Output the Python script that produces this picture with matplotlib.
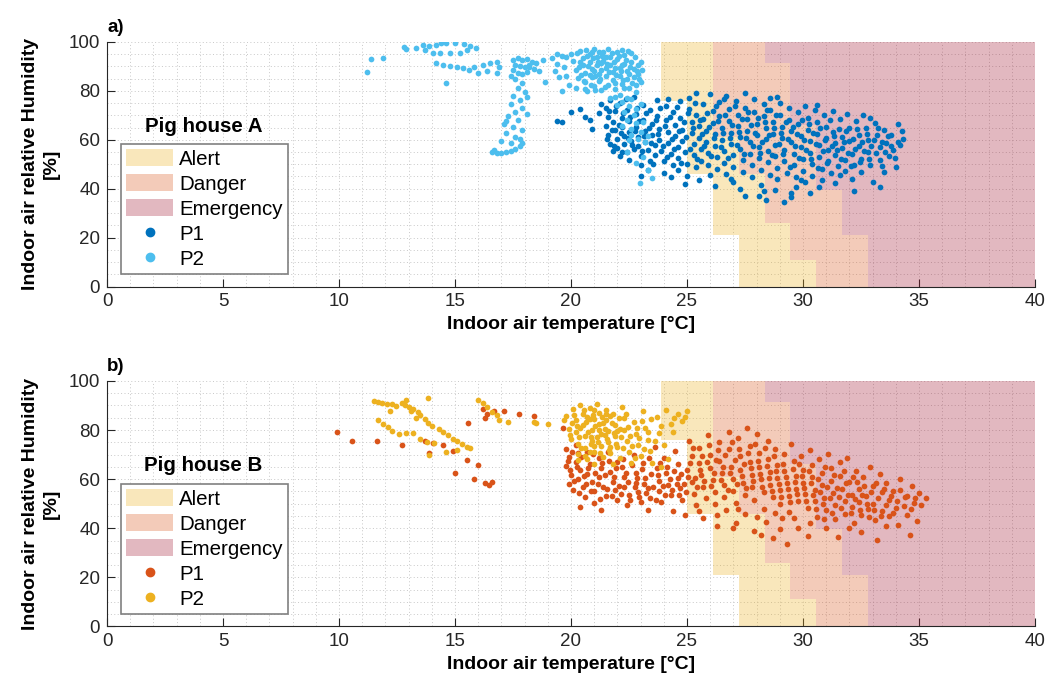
import numpy as np
import matplotlib
matplotlib.use('Agg')
from matplotlib import pyplot as plt
from matplotlib.patches import Patch
from matplotlib.lines import Line2D
from matplotlib.ticker import MultipleLocator

plt.rc('font', family='Liberation Sans', size=13.5)

# zone staircases: left temperature edge of each zone, per humidity band
band_rh = [0, 11, 21, 26, 39.5, 46, 61, 66, 76, 91.3, 100]
alert_t = [27.24, 27.24, 26.14, 26.14, 26.14, 25.0, 25.0, 25.0, 23.9, 23.9]
danger_t = [30.56, 29.44, 29.44, 28.36, 28.36, 27.24, 26.14, 26.14, 26.14, 26.14]
emerg_t = [32.8, 32.8, 31.67, 31.67, 30.56, 30.56, 30.56, 29.44, 29.44, 28.36]

# pig house A, P1 (temperature, humidity)
a_p1 = [
    (19.4, 67.8), (19.6, 67.4), (20.0, 71.3), (20.4, 72.6), (20.6, 69.2), (20.8, 68.0),
    (20.9, 64.4), (21.3, 74.5), (21.2, 70.8),
    (21.5, 73.2), (21.6, 69.5), (21.5, 65.8), (21.6, 62.1), (21.7, 58.4), (21.8, 55.6),
    (21.7, 76.4), (21.9, 71.7), (21.8, 67.3), (21.9, 63.9), (22.0, 60.2), (22.0, 56.8),
    (22.1, 53.5), (22.1, 74.9), (22.2, 69.0), (22.2, 65.4), (22.3, 61.7), (22.3, 58.1),
    (22.4, 54.9), (22.5, 51.8), (22.4, 72.3), (22.5, 67.6), (22.5, 63.2), (22.6, 59.6),
    (22.7, 56.3), (22.7, 77.5), (22.8, 70.4), (22.8, 65.1), (22.9, 61.0), (22.9, 57.4),
    (23.0, 53.2), (23.0, 49.6), (23.1, 74.3), (23.1, 68.2), (23.2, 63.6), (23.2, 59.3),
    (23.3, 55.7), (23.4, 51.4), (23.3, 47.5), (23.4, 72.0), (23.5, 66.3), (23.5, 61.9),
    (23.6, 57.9), (23.6, 53.8), (23.7, 76.2), (23.7, 69.6), (23.8, 64.5), (23.8, 60.1),
    (23.9, 55.5), (24.0, 51.2), (24.0, 46.3), (24.1, 73.8), (24.1, 67.9), (24.2, 63.0),
    (24.2, 58.6), (24.3, 54.1), (24.4, 49.8), (24.3, 44.6), (24.4, 71.2), (24.5, 66.0),
    (24.5, 61.4), (24.6, 56.9), (24.6, 52.7), (24.7, 75.8), (24.7, 69.0), (24.8, 64.2),
    (24.8, 59.7), (24.9, 55.0), (25.0, 50.3), (25.0, 45.4), (24.9, 41.8), (25.1, 77.2),
    (25.1, 72.6), (25.2, 67.4), (25.2, 62.8), (25.3, 58.2), (25.3, 53.6), (25.4, 48.9),
    (25.4, 70.1), (25.5, 65.5), (25.5, 60.6), (25.6, 56.1), (25.6, 51.5), (25.5, 43.7),
    (25.7, 74.7), (25.7, 68.7), (25.8, 63.8), (25.8, 59.2), (25.9, 54.7), (25.9, 49.9),
    (26.0, 45.6), (26.0, 78.6), (26.1, 71.9), (26.1, 66.8), (26.2, 62.3), (26.2, 57.6),
    (26.3, 52.9), (26.3, 48.2), (26.2, 41.2), (26.4, 75.4), (26.4, 69.6), (26.5, 64.9),
    (26.5, 60.0), (26.6, 55.4), (26.6, 50.7), (26.7, 46.1), (26.7, 78.0), (26.8, 72.8),
    (26.8, 67.5), (26.9, 62.7), (26.9, 58.3), (27.0, 53.6), (27.0, 48.8), (27.0, 42.9),
    (27.1, 75.9), (27.2, 70.3), (27.2, 65.6), (27.3, 61.1), (27.3, 56.4), (27.4, 51.7),
    (27.4, 47.0), (27.3, 39.8), (27.5, 79.1), (27.5, 73.2), (27.6, 68.4), (27.6, 63.5),
    (27.7, 59.0), (27.7, 54.3), (27.8, 49.6), (27.8, 44.9), (27.9, 76.8), (27.9, 71.4),
    (28.0, 66.6), (28.0, 61.9), (28.1, 57.2), (28.1, 52.4), (28.2, 47.8), (28.2, 41.5),
    (28.1, 37.2), (28.3, 74.6), (28.3, 69.7), (28.4, 64.7), (28.4, 60.3), (28.5, 55.6),
    (28.5, 50.9), (28.4, 35.2), (28.6, 77.3), (28.6, 72.0), (28.7, 67.2), (28.7, 62.5),
    (28.8, 58.0), (28.8, 53.3), (28.9, 48.5), (28.9, 43.8), (28.8, 39.6), (29.0, 75.1),
    (29.0, 70.1), (29.1, 65.3), (29.1, 60.7), (29.2, 56.0), (29.2, 51.2), (29.3, 46.6),
    (29.2, 34.6), (29.4, 73.0), (29.4, 68.3), (29.5, 63.6), (29.5, 58.9), (29.5, 36.8),
    (29.6, 54.2), (29.6, 49.5), (29.7, 44.8), (29.7, 40.5), (29.8, 71.4), (29.8, 66.4),
    (29.9, 61.6), (29.9, 57.0), (30.0, 52.2), (30.0, 47.4), (30.1, 42.6), (30.1, 74.0),
    (30.2, 69.0), (30.2, 64.1), (30.3, 59.5), (30.3, 54.8), (30.4, 50.0), (30.4, 45.3),
    (30.3, 38.4), (30.5, 72.2), (30.6, 67.1), (30.6, 62.4), (30.7, 57.7), (30.7, 52.8),
    (30.8, 48.2), (30.8, 43.5), (30.9, 70.3), (31.0, 65.4), (31.0, 60.8), (31.1, 56.0),
    (31.1, 51.3), (31.2, 46.6), (31.3, 71.6), (31.3, 63.3), (31.4, 58.7), (31.4, 53.9),
    (31.5, 49.1), (31.4, 42.3), (31.6, 68.4), (31.7, 61.2), (31.7, 56.6), (31.8, 51.8),
    (31.8, 47.2), (31.9, 70.7), (32.0, 65.0), (32.0, 59.4), (32.1, 54.4), (32.2, 49.6),
    (32.1, 44.1), (32.3, 67.6), (32.4, 62.0), (32.4, 57.3), (32.5, 52.1), (32.5, 46.8),
    (32.6, 70.1), (32.7, 64.8), (32.8, 59.8), (32.8, 55.2), (32.9, 49.9), (33.0, 42.6),
    (33.1, 67.0), (33.2, 61.8), (33.3, 56.9), (33.3, 51.6), (33.5, 46.8), (33.5, 64.1),
    (33.6, 58.8), (33.7, 53.4), (33.8, 62.0), (33.9, 56.0), (34.0, 49.0), (34.1, 66.3),
    (34.2, 57.8), (34.3, 60.2), (33.3, 40.5), (32.2, 38.9),
    (21.55, 60.4), (21.65, 71.8), (21.75, 64.0), (21.85, 57.3), (21.95, 74.0), (22.05, 66.1),
    (22.15, 62.9), (22.2, 55.2), (22.25, 71.0), (22.35, 76.6), (22.45, 60.8), (22.55, 69.2),
    (22.65, 57.8), (22.75, 63.6), (22.85, 73.1), (22.95, 67.6), (23.05, 55.6), (23.15, 61.4),
    (23.25, 70.8), (23.35, 64.9), (23.45, 58.7), (23.55, 50.2), (23.65, 68.0), (23.75, 62.3),
    (23.85, 73.0), (23.95, 57.6), (24.05, 65.7), (24.15, 53.1), (24.25, 69.5), (24.35, 60.2),
    (24.45, 56.1), (24.55, 73.3), (24.65, 63.5), (24.75, 50.5), (24.85, 67.2), (24.95, 61.2),
    (25.05, 70.8), (25.15, 56.3), (25.25, 64.9), (25.35, 75.1), (25.45, 52.0), (25.55, 68.3),
    (25.65, 62.2), (25.75, 57.5), (25.85, 71.0), (25.95, 65.3), (26.05, 53.3), (26.15, 60.7),
    (26.25, 73.9), (26.35, 67.8), (26.45, 56.9), (26.55, 62.7), (26.65, 70.2), (26.75, 52.4),
    (26.85, 60.6), (26.95, 65.9), (27.05, 73.7), (27.15, 57.9), (27.25, 63.2), (27.35, 68.4),
    (27.45, 54.3), (27.55, 60.9), (27.65, 71.3), (27.75, 65.9), (27.85, 57.4), (27.95, 62.7),
    (28.05, 69.0), (28.15, 54.6), (28.25, 59.0), (28.35, 67.1), (28.45, 72.2), (28.55, 62.0),
    (28.65, 53.8), (28.75, 65.0), (28.85, 70.2), (28.95, 58.4), (29.05, 62.9), (29.15, 54.1),
    (29.25, 67.2), (29.35, 60.5), (29.45, 49.0), (29.55, 65.2), (29.65, 57.4), (29.75, 62.3),
    (29.85, 52.7), (29.95, 68.2), (30.05, 60.0), (30.15, 55.8), (30.25, 66.3), (30.35, 52.1),
    (30.45, 62.8), (30.55, 58.2), (30.65, 48.6), (30.75, 64.9), (30.85, 55.3), (30.95, 60.1),
    (31.05, 50.4), (31.15, 67.9), (31.25, 57.5), (31.35, 61.7), (31.45, 55.9), (31.55, 64.6),
    (31.65, 52.0), (31.75, 58.9), (31.85, 63.4), (31.95, 54.6), (32.05, 49.4), (32.15, 60.4),
    (32.25, 56.1), (32.35, 64.6), (32.45, 51.1), (32.55, 59.1), (32.65, 55.6), (32.75, 62.4),
    (32.85, 52.1), (32.95, 57.5), (33.05, 60.0), (33.15, 54.6), (33.25, 64.9), (33.4, 59.2),
    (33.55, 55.2), (33.65, 61.4), (33.8, 57.6), (33.95, 52.5), (34.1, 59.3), (34.25, 63.4),
    (23.0, 45.1), (24.6, 47.8), (26.9, 44.1), (28.6, 45.5), (29.9, 43.6), (31.6, 45.6),
    (33.4, 49.4), (27.5, 36.9), (28.3, 39.1), (29.5, 38.2), (30.7, 40.9), (24.2, 76.7),
    (26.6, 76.5), (28.9, 77.6), (30.6, 74.4), (32.9, 69.0), (25.4, 79.3),
]

# pig house A, P2
a_p2 = [
    (11.2, 87.6), (11.4, 93.0), (11.9, 93.6), (12.8, 98.1), (12.9, 97.2), (13.3, 97.4),
    (13.6, 98.8), (13.9, 98.4), (14.2, 98.8), (14.4, 99.4), (14.6, 99.7), (15.0, 99.5),
    (15.4, 99.2), (15.65, 98.4), (15.9, 97.4), (15.5, 96.7), (15.2, 95.6), (14.8, 95.4),
    (14.35, 95.4), (14.07, 95.6), (13.7, 96.7), (14.2, 91.3), (14.5, 90.6), (14.8, 90.2),
    (15.07, 89.9), (15.36, 89.2), (15.8, 89.6), (16.2, 90.6), (16.5, 91.3), (16.8, 92.0),
    (16.9, 89.9), (16.8, 87.2), (16.0, 87.2), (14.6, 83.4), (15.6, 88.4), (16.4, 88.1),
    (17.5, 92.8), (17.7, 93.3), (17.9, 92.5), (18.1, 93.0), (18.3, 92.0), (18.5, 91.4),
    (17.6, 90.7), (17.8, 90.2), (18.0, 89.6), (18.2, 90.5), (18.4, 89.0), (18.6, 88.3),
    (17.5, 88.4), (17.7, 87.5), (17.9, 86.8), (18.1, 87.9), (17.4, 86.0),
    (17.6, 84.7), (17.9, 83.2), (17.7, 81.0), (18.0, 79.4), (17.5, 78.0), (17.8, 76.3),
    (17.4, 74.5), (17.9, 73.1), (17.6, 71.2), (17.3, 69.8), (17.7, 68.0), (17.1, 66.4),
    (17.5, 65.1), (17.9, 63.9), (17.2, 62.6), (17.6, 61.0), (17.0, 59.7), (17.4, 58.6),
    (17.8, 60.2), (17.2, 67.5), (18.1, 70.4), (18.1, 77.6),
    (16.6, 55.1), (16.8, 54.6), (17.0, 54.7), (17.2, 55.0), (17.4, 55.6), (17.6, 56.4),
    (17.8, 57.3), (17.9, 58.6), (16.7, 56.0),
    (18.8, 92.6), (18.2, 89.9), (18.9, 83.8), (19.2, 93.5), (19.4, 91.0), (19.3, 88.2),
    (19.6, 94.4), (19.7, 89.6), (19.8, 86.0), (19.9, 82.3), (19.6, 79.8), (20.0, 95.1),
    (20.1, 92.3), (20.2, 88.7), (20.3, 85.1), (20.2, 81.0), (20.4, 96.2), (20.5, 93.6),
    (20.5, 90.4), (20.6, 87.3), (20.6, 83.7), (20.7, 79.9), (20.8, 95.0), (20.8, 91.8),
    (20.9, 88.9), (20.9, 85.6), (21.0, 82.2), (21.0, 97.1), (21.1, 93.9), (21.1, 90.5),
    (21.2, 87.1), (21.2, 83.9), (21.3, 80.3), (21.4, 95.8), (21.4, 92.4), (21.5, 89.2),
    (21.5, 85.9), (21.6, 82.5), (21.6, 97.3), (21.7, 94.0), (21.7, 90.7), (21.8, 87.6),
    (21.8, 84.4), (21.9, 80.8), (22.0, 96.1), (22.0, 92.9), (22.1, 89.5), (22.1, 86.2),
    (22.2, 83.0), (22.3, 94.8), (22.3, 91.2), (22.4, 88.0), (22.4, 84.7), (22.5, 81.3),
    (22.6, 95.3), (22.6, 92.0), (22.7, 89.1), (22.7, 85.8), (22.8, 82.6), (22.9, 90.4),
    (22.9, 87.0), (23.0, 83.8), (22.8, 79.4), (20.4, 92.0), (20.8, 86.3), (21.3, 91.4),
    (21.0, 88.0), (21.9, 89.3), (22.2, 90.6), (21.5, 93.7), (20.7, 94.3), (21.2, 96.0),
    (22.5, 87.1),
    (20.25, 95.4), (20.35, 89.9), (20.45, 86.7), (20.55, 84.0), (20.65, 96.8), (20.75, 90.1),
    (20.85, 82.6), (20.95, 93.4), (21.05, 86.1), (21.15, 91.9), (21.25, 85.0), (21.35, 94.4),
    (21.45, 81.7), (21.55, 91.1), (21.65, 87.9), (21.75, 95.4), (21.85, 91.9), (21.95, 86.5),
    (22.05, 94.4), (22.15, 88.1), (22.25, 84.6), (22.35, 92.6), (22.45, 96.2), (22.55, 89.9),
    (22.65, 83.4), (22.75, 93.7), (22.85, 88.0), (22.95, 84.9), (23.0, 92.0), (23.05, 88.6),
    (21.05, 80.4), (20.6, 80.8), (21.3, 88.6), (21.9, 83.2), (22.3, 81.3), (20.9, 96.1),
    (19.8, 93.7), (19.5, 85.6), (19.4, 95.0), (22.2, 96.8),
    (21.9, 77.6), (22.2, 75.3), (22.5, 73.8), (22.3, 71.5), (22.7, 70.0), (22.4, 68.2),
    (22.8, 66.7), (22.6, 64.5), (23.0, 63.1), (22.9, 60.4), (23.2, 58.9), (21.7, 77.0),
    (22.1, 78.4), (22.6, 76.5), (23.0, 74.6), (22.0, 74.2), (22.4, 77.0), (22.2, 65.8),
    (22.6, 62.0), (22.8, 72.7), (23.1, 67.2), (23.3, 61.5), (22.5, 60.1),
    (22.97, 42.2), (23.5, 44.4), (23.3, 47.8), (22.8, 50.6), (23.1, 52.9), (22.4, 55.0),
]

# pig house B, P1
b_p1 = [
    (9.93, 79.1), (10.57, 75.6), (11.65, 75.7), (12.7, 73.9), (13.7, 75.6), (14.06, 74.8),
    (13.9, 70.7), (14.5, 73.9), (14.9, 71.5), (15.0, 62.7), (15.5, 67.7), (15.57, 83.0),
    (15.8, 60.0), (16.0, 65.8), (16.3, 58.3), (16.45, 57.6), (16.6, 58.7), (16.2, 88.4),
    (16.4, 86.5), (16.7, 87.8), (17.1, 87.8), (17.75, 86.5), (18.4, 85.8), (19.67, 81.0),
    (16.3, 85.0),
    (19.8, 72.4), (19.9, 69.0), (19.8, 65.3), (20.0, 61.8), (19.9, 58.0), (20.1, 55.6),
    (20.2, 73.8), (20.3, 70.5), (20.2, 67.1), (20.4, 63.6), (20.3, 60.0), (20.5, 56.9),
    (20.6, 52.8), (20.4, 48.7), (20.7, 71.2), (20.8, 66.2), (20.7, 62.1), (20.9, 58.9),
    (21.0, 55.1), (21.0, 50.3), (21.2, 68.8), (21.3, 64.4), (21.2, 60.7), (21.4, 57.0),
    (21.5, 53.2), (21.3, 47.6), (21.6, 70.9),
    (21.7, 62.9), (21.8, 58.9), (21.9, 55.4), (22.0, 51.5), (22.0, 67.0), (22.2, 64.8),
    (22.3, 60.9), (22.3, 56.8), (22.5, 53.4), (22.4, 49.5), (22.7, 70.0), (22.8, 62.5),
    (22.8, 58.5), (22.9, 54.6), (23.0, 50.8), (23.1, 66.6), (23.2, 60.4), (23.3, 56.2),
    (23.4, 52.2), (23.3, 47.3), (23.6, 72.9), (23.7, 64.4), (23.8, 59.2), (23.8, 55.0),
    (23.9, 50.6), (24.0, 68.7), (24.1, 62.6), (24.2, 57.7), (24.3, 53.5), (24.4, 47.0),
    (24.5, 71.5), (24.6, 66.0), (24.6, 60.5), (24.7, 56.3), (24.8, 51.7), (24.9, 45.3),
    (25.0, 63.8),
    (19.85, 67.2), (19.95, 63.6), (20.05, 71.0), (20.15, 59.4), (20.25, 65.1), (20.35, 54.3),
    (20.45, 68.9), (20.55, 61.4), (20.65, 58.0), (20.75, 64.5), (20.85, 55.3), (20.95, 70.4),
    (21.05, 62.5), (21.15, 57.9), (21.25, 52.0), (21.35, 66.7), (21.45, 61.8), (21.55, 56.0),
    (21.65, 67.5), (21.75, 53.1), (21.85, 60.8), (21.95, 64.4), (22.05, 57.1), (22.15, 53.8),
    (22.25, 68.1), (22.35, 62.3), (22.45, 58.9), (22.55, 51.6), (22.65, 65.7), (22.75, 56.6),
    (22.85, 60.3), (22.95, 52.6), (23.05, 64.0), (23.15, 58.1), (23.25, 54.3), (23.35, 68.5),
    (23.45, 61.9), (23.55, 56.9), (23.65, 51.4), (23.75, 61.5), (23.85, 66.7), (23.95, 57.3),
    (24.05, 53.4), (24.15, 65.1), (24.25, 59.9), (24.35, 55.4), (24.45, 63.4), (24.55, 58.2),
    (24.65, 53.7), (24.75, 62.2), (24.85, 57.9), (24.95, 54.9),
    (25.1, 75.7), (25.2, 69.3), (25.2, 58.8), (25.3, 54.1), (25.4, 49.4), (25.5, 72.6),
    (25.5, 66.4), (25.6, 61.6), (25.7, 56.9), (25.8, 52.2), (25.7, 44.2), (25.9, 77.9),
    (26.0, 69.8), (26.0, 64.6), (26.1, 59.5), (26.2, 54.8), (26.2, 49.7), (26.3, 40.9),
    (26.4, 75.1), (26.4, 67.2), (26.5, 62.3), (26.6, 57.6), (26.6, 52.7), (26.7, 47.4),
    (26.8, 79.2), (26.8, 72.1), (26.9, 65.0), (27.0, 60.0), (27.0, 55.3), (27.1, 50.4),
    (27.1, 42.0), (27.2, 76.8), (27.3, 69.5), (27.3, 63.7), (27.4, 58.5), (27.5, 53.6),
    (27.5, 45.7), (27.6, 81.0), (27.7, 73.4), (27.7, 67.0), (27.8, 61.8), (27.8, 56.7),
    (27.9, 51.6), (27.9, 39.0), (28.0, 78.2), (28.1, 70.6), (28.1, 64.9), (28.2, 59.9),
    (28.3, 54.9), (28.3, 47.9), (28.4, 42.4), (28.5, 75.5), (28.5, 68.2), (28.6, 62.8),
    (28.6, 57.8), (28.7, 52.6), (28.7, 36.1), (28.8, 72.4), (28.9, 65.7), (28.9, 60.6),
    (29.0, 55.6), (29.0, 49.8), (29.1, 44.3), (29.2, 70.1), (29.2, 63.5), (29.3, 58.4),
    (29.4, 53.3), (29.4, 46.6), (29.3, 33.6), (29.5, 74.2), (29.6, 67.3), (29.7, 61.4),
    (29.7, 56.1), (29.8, 50.9), (29.8, 40.2), (29.9, 69.4), (30.0, 63.9), (30.0, 58.6),
    (30.1, 54.0), (30.2, 48.3), (30.2, 36.7), (30.3, 72.0), (30.4, 65.8), (30.4, 60.9),
    (30.5, 55.7), (30.5, 51.3), (30.6, 44.6),
    (25.05, 61.0), (25.15, 66.4), (25.25, 72.6), (25.35, 60.5), (25.45, 56.8), (25.55, 63.7),
    (25.65, 69.3), (25.75, 59.3), (25.85, 66.9), (25.95, 73.9), (26.05, 57.2), (26.15, 62.4),
    (26.25, 67.6), (26.35, 71.8), (26.45, 59.6), (26.55, 65.0), (26.65, 69.7), (26.75, 55.5),
    (26.85, 62.6), (26.95, 75.0), (27.05, 67.7), (27.15, 58.2), (27.25, 72.3), (27.35, 61.1),
    (27.45, 66.3), (27.55, 56.3), (27.65, 70.6), (27.75, 64.4), (27.85, 59.4), (27.95, 74.2),
    (28.05, 67.3), (28.15, 62.1), (28.25, 57.0), (28.35, 72.5), (28.45, 65.5), (28.55, 60.4),
    (28.65, 55.3), (28.75, 69.5), (28.85, 63.4), (28.95, 58.2), (29.05, 52.8), (29.15, 66.3),
    (29.25, 61.0), (29.35, 56.0), (29.45, 50.7), (29.55, 64.3), (29.65, 59.0), (29.75, 53.9),
    (29.85, 66.1), (29.95, 61.2), (30.05, 56.2), (30.15, 51.0), (30.25, 63.2), (30.35, 58.3),
    (30.45, 53.6), (30.55, 47.9), (26.3, 45.3), (27.2, 47.9), (28.0, 44.7), (28.8, 46.3),
    (29.6, 44.1), (30.3, 42.2), (25.5, 47.0), (28.2, 37.4), (29.0, 39.6), (27.0, 39.9),
    (30.7, 68.3), (30.8, 62.7), (30.8, 57.5), (30.9, 52.5), (31.0, 47.4), (31.0, 40.3),
    (31.1, 70.1), (31.2, 64.4), (31.2, 59.2), (31.3, 54.2), (31.4, 49.5), (31.4, 43.7),
    (31.5, 36.4), (31.6, 66.9), (31.6, 61.3), (31.7, 56.0), (31.8, 51.0), (31.8, 45.9),
    (31.9, 68.7), (32.0, 58.7), (32.1, 53.6), (32.1, 48.5), (32.2, 42.1), (32.3, 63.3),
    (32.4, 55.9), (32.4, 50.7), (32.5, 45.5), (32.5, 38.5), (32.6, 60.7), (32.7, 53.2),
    (32.8, 47.8), (32.9, 65.1), (33.0, 57.4), (33.0, 50.0), (33.1, 43.3), (33.2, 35.4),
    (33.3, 61.9), (33.4, 54.6), (33.4, 47.2), (33.6, 58.3), (33.7, 51.6), (33.7, 44.8),
    (33.9, 55.1), (34.0, 48.4), (34.1, 41.3), (34.2, 60.0), (34.4, 52.6), (34.5, 45.5),
    (34.7, 57.2), (34.8, 50.3), (34.9, 42.9), (35.0, 54.4), (35.3, 52.3), (34.6, 37.2),
    (30.65, 59.9), (30.75, 54.7), (30.85, 50.0), (30.95, 64.9), (31.05, 57.0), (31.15, 52.4),
    (31.25, 46.1), (31.35, 61.6), (31.45, 56.5), (31.55, 52.8), (31.65, 48.1), (31.75, 63.5),
    (31.85, 58.3), (31.95, 53.4), (32.05, 46.3), (32.15, 61.0), (32.25, 51.9), (32.35, 58.7),
    (32.45, 47.6), (32.55, 53.5), (32.65, 57.1), (32.75, 49.9), (32.85, 44.4), (32.95, 54.7),
    (33.05, 47.5), (33.15, 58.4), (33.25, 52.2), (33.35, 44.9), (33.5, 56.1), (33.6, 49.5),
    (33.8, 53.1), (33.9, 46.1), (34.05, 51.2), (34.2, 55.6), (34.35, 49.2), (34.5, 53.3),
    (34.65, 47.8), (34.85, 52.5), (35.1, 49.6), (32.0, 40.2), (33.6, 40.8), (30.9, 43.6),
]

# pig house B, P2
b_p2 = [
    (11.5, 91.9), (11.66, 91.6), (11.87, 91.1), (12.05, 90.6), (12.27, 90.5), (12.45, 89.8),
    (12.7, 91.1), (12.85, 90.0), (13.0, 89.2), (13.2, 88.5), (13.4, 87.3), (12.9, 92.2),
    (13.1, 87.6), (13.5, 86.0), (13.7, 84.3), (13.85, 83.0), (14.0, 81.6), (14.3, 80.6),
    (14.5, 79.1), (14.7, 77.8), (14.9, 76.5), (15.1, 75.4), (15.3, 74.2), (15.5, 73.0),
    (15.65, 72.6), (11.7, 84.0), (11.9, 82.4), (12.1, 81.3), (12.3, 79.5), (12.6, 78.3),
    (12.9, 78.6), (13.2, 78.6), (13.5, 76.4), (13.8, 75.2), (14.1, 74.9), (13.9, 69.9),
    (14.6, 71.2), (15.1, 71.9), (13.85, 93.0), (12.2, 87.7), (13.3, 84.9),
    (16.0, 92.3), (16.2, 91.0), (16.4, 89.5), (16.6, 87.3), (16.8, 86.1), (16.9, 84.1),
    (17.3, 83.4), (18.4, 83.2), (18.5, 82.7), (18.99, 82.6), (19.7, 84.0),
    (19.8, 85.6), (19.9, 80.3), (20.0, 76.2), (20.1, 88.5), (20.2, 84.0), (20.2, 79.2),
    (20.3, 74.3), (20.3, 70.1), (20.4, 90.3), (20.5, 86.4), (20.5, 82.1), (20.6, 77.5),
    (20.6, 72.8), (20.7, 68.0), (20.8, 88.9), (20.8, 84.6), (20.9, 80.1), (20.9, 75.6),
    (21.0, 71.0), (21.0, 66.3), (21.1, 90.6), (21.2, 86.9), (21.2, 82.6), (21.3, 78.2),
    (21.3, 73.5), (21.4, 69.2), (21.5, 88.2), (21.5, 84.2), (21.6, 79.6), (21.6, 75.2),
    (21.7, 70.6), (21.8, 66.0), (21.8, 86.7), (21.9, 82.0), (21.9, 77.4), (22.0, 72.9),
    (22.1, 68.7), (22.2, 89.4), (22.3, 84.9), (22.3, 80.0), (22.4, 75.6), (22.5, 71.2),
    (22.6, 66.6), (22.7, 83.2), (22.8, 78.4), (22.9, 73.8), (23.0, 69.4), (23.1, 87.6),
    (23.2, 80.9), (23.3, 76.0), (23.4, 71.6), (23.5, 66.4), (23.7, 85.4), (23.8, 78.8),
    (24.0, 74.0), (24.1, 88.2), (24.3, 82.5), (24.4, 79.1), (24.6, 86.6), (24.8, 83.6),
    (25.0, 87.7), (24.2, 68.0), (23.9, 64.8), (20.4, 81.0), (21.1, 77.0), (21.4, 83.0),
    (20.7, 85.3), (21.0, 88.0), (21.7, 73.0), (20.8, 70.9), (21.5, 86.5), (22.1, 80.3),
    (20.15, 86.2), (20.25, 81.5), (20.35, 77.0), (20.45, 72.6), (20.55, 88.2), (20.65, 83.4),
    (20.75, 79.0), (20.85, 74.5), (20.95, 86.2), (21.05, 81.8), (21.15, 75.1), (21.25, 70.7),
    (21.35, 85.4), (21.45, 80.6), (21.55, 76.4), (21.65, 71.9), (21.75, 82.8), (21.85, 78.8),
    (21.95, 74.4), (22.05, 84.8), (22.15, 77.1), (22.25, 72.5), (22.35, 86.6), (22.45, 81.4),
    (22.55, 77.6), (22.65, 73.6), (22.75, 68.5), (22.85, 80.9), (22.95, 76.6), (23.05, 83.7),
    (23.15, 72.2), (23.3, 79.4), (23.45, 84.6), (23.6, 75.7), (20.05, 82.7), (19.95, 77.9),
    (20.3, 67.8), (20.6, 69.6), (21.0, 84.3), (21.2, 80.0), (21.0, 73.6), (21.45, 78.1),
    (20.85, 77.2), (21.7, 85.7), (22.0, 79.7), (24.9, 85.2), (24.45, 84.8), (23.9, 81.6),
]

zone_colors = {'Alert': '#EDB120', 'Danger': '#D95319', 'Emergency': '#A2142F'}
panels = [
    ('a)', 'Pig house A', a_p1, a_p2, '#0072BD', '#4DBEEE'),
    ('b)', 'Pig house B', b_p1, b_p2, '#D95319', '#EDB120'),
]

fig = plt.figure(figsize=(10.45, 6.84), dpi=100)
axes = [fig.add_axes([0.1024, 0.5811, 0.888, 0.3575]),
        fig.add_axes([0.1024, 0.0841, 0.888, 0.3590])]

rh = np.array(band_rh)
for ax, (tag, title, p1, p2, c1, c2) in zip(axes, panels):
    # zones, each between its own edge and the next one
    edges = [alert_t, danger_t, emerg_t, [40] * len(alert_t)]
    for k, name in enumerate(zone_colors):
        x1 = np.append(edges[k], edges[k][-1])
        x2 = np.append(edges[k + 1], edges[k + 1][-1])
        ax.fill_betweenx(rh, x1, x2, step='post', color=zone_colors[name],
                         alpha=0.3, lw=0, zorder=1)

    p1 = np.array(p1)
    p2 = np.array(p2)
    ax.scatter(p1[:, 0], p1[:, 1], s=17, color=c1, lw=0, zorder=3)
    ax.scatter(p2[:, 0], p2[:, 1], s=17, color=c2, lw=0, zorder=4)

    ax.set_xlim(0, 40)
    ax.set_ylim(0, 100)
    ax.xaxis.set_major_locator(MultipleLocator(5))
    ax.yaxis.set_major_locator(MultipleLocator(20))
    ax.xaxis.set_minor_locator(MultipleLocator(1))
    ax.yaxis.set_minor_locator(MultipleLocator(5))
    ax.grid(which='both', color='#c8c8c8', linestyle=(0, (1, 2.5)), linewidth=0.7, zorder=0)
    ax.set_axisbelow(True)
    ax.tick_params(which='major', direction='in', length=6, width=0.8,
                   colors='#262626', labelsize=13.5, pad=5)
    ax.tick_params(which='minor', length=0)
    for side in ['top', 'right']:
        ax.spines[side].set_visible(False)
    for side in ['left', 'bottom']:
        ax.spines[side].set_color('#262626')
        ax.spines[side].set_linewidth(0.8)

    ax.set_xlabel('Indoor air temperature [°C]', fontweight='bold', fontsize=14, labelpad=4)
    ax.set_ylabel('Indoor air relative Humidity\n[%]', fontweight='bold', fontsize=14,
                  labelpad=6, linespacing=1.3)
    ax.text(0.0, 1.025, tag, transform=ax.transAxes, fontweight='bold', fontsize=13.5,
            va='bottom', ha='left')

    handles = [Patch(facecolor=zone_colors[n], alpha=0.3, edgecolor='none', label=n)
               for n in zone_colors]
    handles += [Line2D([], [], ls='none', marker='o', ms=6, color=c1, label='P1'),
                Line2D([], [], ls='none', marker='o', ms=6, color=c2, label='P2')]
    leg = ax.legend(handles=handles, loc='lower left', bbox_to_anchor=(0.0148, 0.051),
                    borderaxespad=0, fontsize=14.8, fancybox=False, framealpha=1,
                    edgecolor='#808080', handlelength=2.3, handleheight=0.9,
                    handletextpad=0.3, labelspacing=0.26, borderpad=0.25)
    leg.get_frame().set_linewidth(1.2)
    leg.set_zorder(10)
    ax.text(0.104, 0.615, title, transform=ax.transAxes, fontweight='bold',
            fontsize=14.8, ha='center', va='bottom', zorder=11)

fig.savefig('out.png', dpi=100, facecolor='white')
